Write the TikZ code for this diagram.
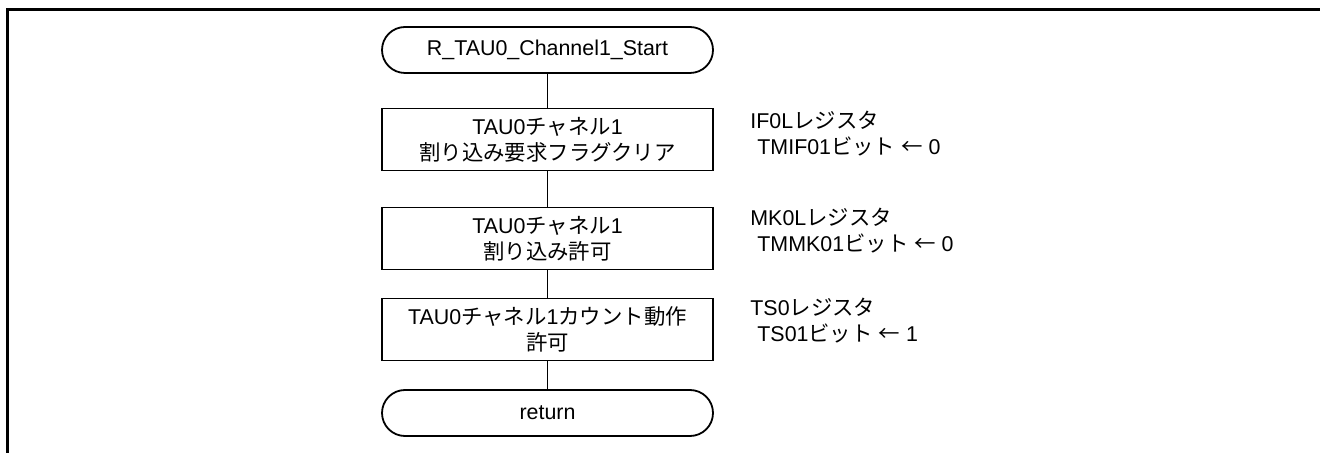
\documentclass[tikz,border=0pt]{standalone}
\usepackage{fontspec}
\setmainfont{Liberation Sans}
\newfontfamily\jp{Noto Sans CJK JP}
\begin{document}
\begin{tikzpicture}[x=0.5pt,y=-0.5pt,
  font=\fontsize{10.7pt}{13pt}\selectfont,
  frame/.style={line width=1.5pt},
  term/.style={draw, line width=0.9pt, rounded corners=11.5pt, minimum width=165.5pt, minimum height=23pt, inner sep=0pt},
  proc/.style={draw, line width=0.9pt, minimum width=165.5pt, minimum height=31pt, align=center, inner sep=0pt},
  note/.style={anchor=west, align=left, inner sep=0pt},
  conn/.style={line width=0.9pt}]
\useasboundingbox (0,0) rectangle (1320,453);
% frame
\coordinate (fa) at (1320,9.5);
\coordinate (fb) at (7.5,9.5);
\coordinate (fc) at (7.5,453);
\draw[frame] (fa) -- (fb) -- (fc);
% nodes
\node[term] (start) at (547.5,50) {R\_TAU0\_Channel1\_Start};
\node[proc] (b1) at (547.5,139.5) {TAU0{\jp チャネル}1\\{\jp 割り込み要求フラグクリア}};
\node[proc] (b2) at (547.5,238.5) {TAU0{\jp チャネル}1\\{\jp 割り込み許可}};
\node[proc] (b3) at (547.5,329.5) {TAU0{\jp チャネル}1{\jp カウント動作}\\{\jp 許可}};
\node[term] (ret) at (547.5,413) {return};
% connectors
\draw[conn] (start) -- (b1);
\draw[conn] (b1) -- (b2);
\draw[conn] (b2) -- (b3);
\draw[conn] (b3) -- (ret);
% notes
\node[note] (n1) at (750,134) {IF0L{\jp レジスタ}\\\hspace*{3.5pt}TMIF01{\jp ビット} {\jp ←} 0};
\node[note] (n2) at (750,231) {MK0L{\jp レジスタ}\\\hspace*{3.5pt}TMMK01{\jp ビット} {\jp ←} 0};
\node[note] (n3) at (750,321) {TS0{\jp レジスタ}\\\hspace*{3.5pt}TS01{\jp ビット} {\jp ←} 1};
\end{tikzpicture}
\end{document}
